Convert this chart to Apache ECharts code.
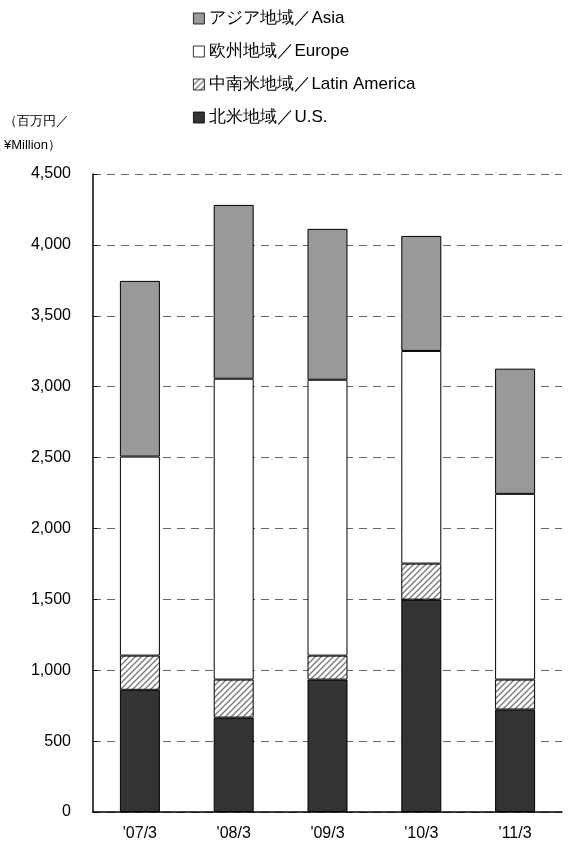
<!DOCTYPE html>
<html><head><meta charset="utf-8">
<script src="https://cdn.jsdelivr.net/npm/echarts@6/dist/echarts.min.js"></script>
<style>html,body{margin:0;padding:0;background:#fff}#c{width:572px;height:856px}</style>
</head><body><div id="c"></div>
<script>
const categories = ["'07/3","'08/3","'09/3","'10/3","'11/3"];
const us = [862,666,934,1498,723];
const latin = [241,268,169,254,211];
const europe = [1404,2122,1946,1500,1310];
const asia = [1239,1226,1064,811,883];
const names = ['北米地域／U.S.','中南米地域／Latin America','欧州地域／Europe','アジア地域／Asia'];

const cv = document.createElement('canvas'); cv.width = 6; cv.height = 6;
const g = cv.getContext('2d');
g.fillStyle = '#fff'; g.fillRect(0,0,6,6);
g.strokeStyle = '#777'; g.lineWidth = 1.3;
g.beginPath(); g.moveTo(0,6); g.lineTo(6,0); g.moveTo(-3,3); g.lineTo(3,-3); g.moveTo(3,9); g.lineTo(9,3); g.stroke();

const font = '"Liberation Sans", Arial, sans-serif';
const chart = echarts.init(document.getElementById('c'));
const mk = (name, data, color) => ({
  name, type: 'bar', stack: 's', data, barWidth: 40,
  itemStyle: { color, borderColor: '#000', borderWidth: 1 }
});
chart.setOption({
  animation: false,
  textStyle: { fontFamily: font },
  legend: {
    orient: 'vertical', left: 188, top: 5, itemWidth: 11, itemHeight: 11, itemGap: 16,
    data: [names[3], names[2], names[1], names[0]],
    textStyle: { fontSize: 17, color: '#000', fontFamily: font },
    itemStyle: { borderWidth: 0.8 },
    icon: 'rect'
  },
  graphic: [
    { type: 'text', left: 4, top: 115, style: { text: '（百万円／', fill: '#000', font: '13px ' + font } },
    { type: 'text', left: 4, top: 139, style: { text: '¥Million）', fill: '#000', font: '13px ' + font } }
  ],
  grid: { left: 93, right: 10, top: 174, bottom: 44 },
  xAxis: {
    type: 'category', data: categories,
    axisLine: { lineStyle: { color: '#000', width: 1.5 } },
    axisTick: { inside: true, length: 5, lineStyle: { color: '#000' } },
    axisLabel: { fontSize: 16, color: '#000', margin: 14 }
  },
  yAxis: {
    type: 'value', min: 0, max: 4500, interval: 500,
    axisLine: { show: true, lineStyle: { color: '#000', width: 1.5 } },
    axisTick: { show: true, inside: true, length: 4, lineStyle: { color: '#000' } },
    axisLabel: { fontSize: 16, color: '#000', margin: 22, formatter: v => v.toLocaleString('en-US') },
    splitLine: { lineStyle: { color: '#666', type: [8, 6], width: 1.2 } }
  },
  series: [
    mk(names[0], us, '#333333'),
    mk(names[1], latin, { image: cv, repeat: 'repeat' }),
    mk(names[2], europe, '#ffffff'),
    mk(names[3], asia, '#999999')
  ]
});
</script></body></html>
